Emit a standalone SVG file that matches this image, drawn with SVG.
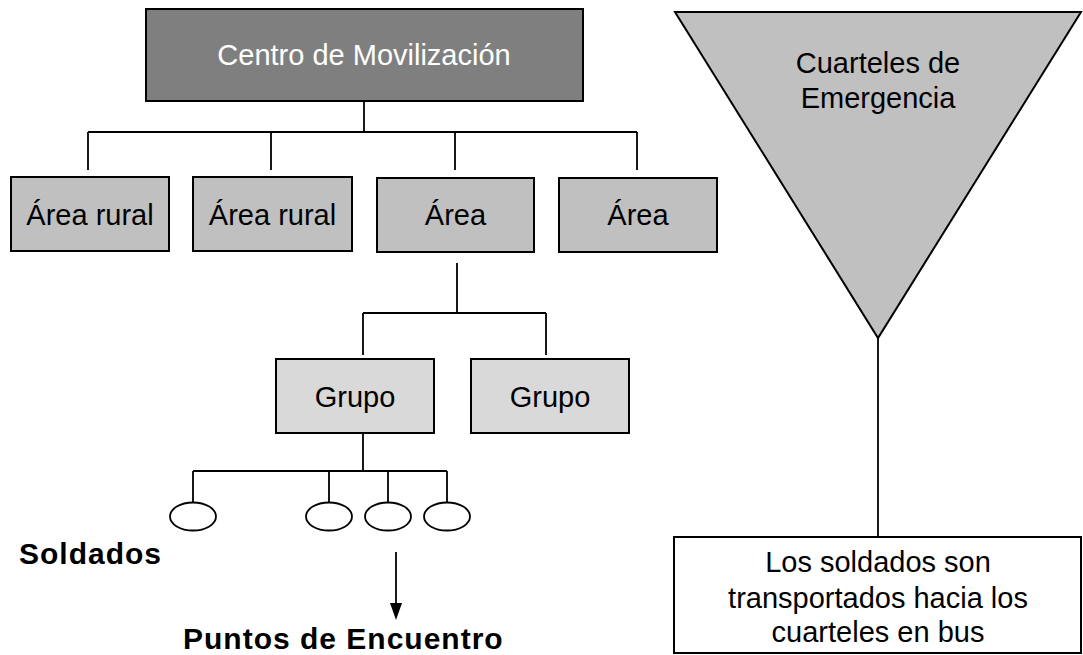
<svg xmlns="http://www.w3.org/2000/svg" width="1083" height="655" viewBox="0 0 1083 655">
<style>
.box{stroke:#000;stroke-width:2}
.t{font-family:"Liberation Sans",Arial,sans-serif;font-size:29px;text-anchor:middle;fill:#000}
.b{font-family:"Liberation Sans",Arial,sans-serif;font-size:30px;font-weight:bold;letter-spacing:1px;fill:#000}
.ln{stroke:#000;stroke-width:1.8;fill:none}
</style>
<rect width="1083" height="655" fill="#fff"/>
<g id="connectors">
<path class="ln" d="M364 101V132M88 132H637M88 132V170M271 132V170M455 132V170M637 132V170"/>
<path class="ln" d="M457 263V313M363 313H546M363 313V355M546 313V355"/>
<path class="ln" d="M363 433V471M193 471H447M193 471V502M329 471V502M388 471V502M447 471V502"/>
<path class="ln" d="M396 552V604"/>
<polygon points="390,603 402,603 396,620" fill="#000"/>
<path class="ln" d="M878 338V537"/>
</g>
<g id="centro">
<rect class="box" x="146" y="9" width="437" height="92" fill="#7f7f7f"/>
<text class="t" x="364" y="65" style="fill:#fff">Centro de Movilización</text>
</g>
<g id="area1">
<rect class="box" x="11" y="177" width="158" height="74" fill="#c0c0c0"/>
<text class="t" x="90" y="225">Área rural</text>
</g>
<g id="area2">
<rect class="box" x="193" y="177" width="159" height="74" fill="#c0c0c0"/>
<text class="t" x="272.5" y="225">Área rural</text>
</g>
<g id="area3">
<rect class="box" x="377" y="178" width="157" height="74" fill="#c0c0c0"/>
<text class="t" x="455.5" y="225">Área</text>
</g>
<g id="area4">
<rect class="box" x="559" y="178" width="158" height="74" fill="#c0c0c0"/>
<text class="t" x="638" y="225">Área</text>
</g>
<g id="grupo1">
<rect class="box" x="276" y="359" width="158" height="74" fill="#d9d9d9"/>
<text class="t" x="355" y="407">Grupo</text>
</g>
<g id="grupo2">
<rect class="box" x="471" y="359" width="158" height="74" fill="#d9d9d9"/>
<text class="t" x="550" y="407">Grupo</text>
</g>
<g id="soldiers">
<ellipse cx="193" cy="516.5" rx="23" ry="14" fill="#fff" stroke="#000" stroke-width="1.8"/>
<ellipse cx="329" cy="516.5" rx="23" ry="14" fill="#fff" stroke="#000" stroke-width="1.8"/>
<ellipse cx="388" cy="516.5" rx="23" ry="14" fill="#fff" stroke="#000" stroke-width="1.8"/>
<ellipse cx="447" cy="516.5" rx="23" ry="14" fill="#fff" stroke="#000" stroke-width="1.8"/>
</g>
<g id="soldados-label">
<text class="b" x="19" y="564">Soldados</text>
</g>
<g id="puntos-label">
<text class="b" x="183" y="649">Puntos de Encuentro</text>
</g>
<g id="cuarteles">
<polygon points="675,12 1081,12 878,338" fill="#c0c0c0" stroke="#000" stroke-width="2"/>
<text class="t" x="878" y="73">Cuarteles de</text>
<text class="t" x="878" y="108">Emergencia</text>
</g>
<g id="transporte">
<rect class="box" x="674" y="537" width="407" height="116" fill="#fff"/>
<text class="t" x="878" y="572">Los soldados son</text>
<text class="t" x="878" y="608">transportados hacia los</text>
<text class="t" x="878" y="642">cuarteles en bus</text>
</g>
</svg>
